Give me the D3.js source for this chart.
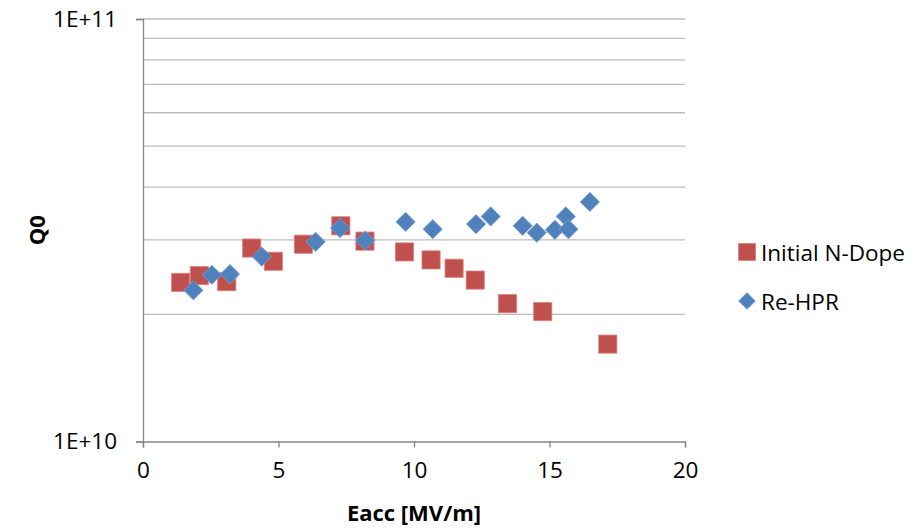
<!DOCTYPE html>
<html>
<head>
<meta charset="utf-8">
<script src="https://cdn.jsdelivr.net/npm/d3@7"></script>
<style>
  body { margin: 0; background: #fff; }
  text { font-family: "Open Sans", sans-serif; fill: #000; }
</style>
</head>
<body>
<svg id="chart" width="921" height="531"></svg>
<script>
// Eacc [MV/m] and Q0
const nDopeEacc = [1.39, 2.08, 3.09, 4.01, 4.81, 5.92, 7.30, 8.19, 9.65, 10.63, 11.48, 12.26, 13.45, 14.75, 17.15];
const nDopeQ0 = [2.38e10, 2.47e10, 2.39e10, 2.87e10, 2.67e10, 2.93e10, 3.24e10, 2.98e10, 2.81e10, 2.69e10, 2.57e10, 2.41e10, 2.12e10, 2.03e10, 1.70e10];

const hprEacc = [1.86, 2.54, 3.21, 4.38, 6.37, 7.27, 8.20, 9.69, 10.69, 12.29, 12.83, 14.01, 14.53, 15.20, 15.60, 15.70, 16.49];
const hprQ0 = [2.28e10, 2.48e10, 2.49e10, 2.74e10, 2.97e10, 3.20e10, 2.99e10, 3.31e10, 3.18e10, 3.27e10, 3.41e10, 3.24e10, 3.12e10, 3.17e10, 3.41e10, 3.18e10, 3.69e10];

const seriesNames = ['Initial N-Dope', 'Re-HPR'];
const xTicks = [0, 5, 10, 15, 20];
const yTicks = [1e10, 1e11];

const margin = { top: 19, left: 143 };
const width = 685 - 143;
const height = 441.5 - 19;

const red = '#c0504d';
const blue = '#4f81bd';
const gridGray = '#bdbdbd';
const axisGray = '#868686';

const svg = d3.select('#chart');
const g = svg.append('g')
    .attr('transform', `translate(${margin.left}, ${margin.top})`);

// scales

const x = d3.scaleLinear()
    .domain([0, 20])
    .range([0, width]);

const y = d3.scaleLog()
    .domain([1e10, 1e11])
    .range([height, 0]);

// grid

const gridValues = d3.range(2, 11).map(d => d * 1e10);

g.append('g')
    .attr('class', 'grid')
  .selectAll('line')
  .data(gridValues)
  .join('line')
    .attr('x1', 0)
    .attr('x2', width)
    .attr('y1', d => y(d))
    .attr('y2', d => y(d))
    .attr('stroke', gridGray)
    .attr('stroke-width', 1.3);

// axes

const xAxis = d3.axisBottom(x)
    .tickValues(xTicks)
    .tickSize(6)
    .tickPadding(15)
    .tickFormat(d3.format('d'));

const yAxis = d3.axisLeft(y)
    .tickValues(yTicks)
    .tickSize(7)
    .tickPadding(19)
    .tickFormat(d => '1E+' + Math.round(Math.log10(d)));

g.append('g')
    .attr('class', 'x axis')
    .attr('transform', `translate(0, ${height})`)
    .call(xAxis)
    .call(s => s.selectAll('path, line').attr('stroke', axisGray).attr('stroke-width', 1.3))
    .call(s => s.selectAll('text').attr('font-size', 22.5).attr('font-family', '"Open Sans", sans-serif').attr('fill', '#000'));

g.append('g')
    .attr('class', 'y axis')
    .call(yAxis)
    .call(s => s.selectAll('path, line').attr('stroke', axisGray).attr('stroke-width', 1.3))
    .call(s => s.selectAll('text').attr('font-size', 22.5).attr('font-family', '"Open Sans", sans-serif').attr('fill', '#000'));

// axis titles

g.append('text')
    .attr('x', width / 2)
    .attr('y', height + 79)
    .attr('text-anchor', 'middle')
    .attr('font-size', 22)
    .attr('font-weight', 'bold')
    .text('Eacc [MV/m]');

g.append('text')
    .attr('transform', `translate(${-107}, ${height / 2}) rotate(-90)`)
    .attr('text-anchor', 'middle')
    .attr('dominant-baseline', 'central')
    .attr('font-size', 22)
    .attr('font-weight', 'bold')
    .text('Q0');

// points

const square = d3.symbol().type(d3.symbolSquare).size(330);
const diamond = d3.symbol().type(d3.symbolSquare).size(185);

g.append('g')
    .attr('class', 'n-dope')
  .selectAll('path')
  .data(d3.zip(nDopeEacc, nDopeQ0))
  .join('path')
    .attr('d', square)
    .attr('transform', d => `translate(${x(d[0])}, ${y(d[1])})`)
    .attr('fill', red)
    .attr('stroke', '#d9807d')
    .attr('stroke-width', 0.8);

g.append('g')
    .attr('class', 're-hpr')
  .selectAll('path')
  .data(d3.zip(hprEacc, hprQ0))
  .join('path')
    .attr('d', diamond)
    .attr('transform', d => `translate(${x(d[0])}, ${y(d[1])}) rotate(45)`)
    .attr('fill', blue)
    .attr('stroke', '#7a9fd0')
    .attr('stroke-width', 0.8);

// legend

const legend = svg.append('g')
    .attr('class', 'legend')
    .attr('transform', 'translate(747, 252)');

const items = legend.selectAll('g')
  .data(seriesNames)
  .join('g')
    .attr('transform', (d, i) => `translate(0, ${i * 49})`);

items.append('path')
    .attr('d', (d, i) => i === 0
      ? d3.symbol().type(d3.symbolSquare).size(290)()
      : d3.symbol().type(d3.symbolSquare).size(140)())
    .attr('transform', (d, i) => i === 0 ? null : 'rotate(45)')
    .attr('fill', (d, i) => i === 0 ? red : blue)
    .attr('stroke', (d, i) => i === 0 ? '#d9807d' : '#7a9fd0')
    .attr('stroke-width', 0.8);

items.append('text')
    .attr('x', 14)
    .attr('dominant-baseline', 'central')
    .attr('font-size', 22.5)
    .text(d => d);
</script>
</body>
</html>
